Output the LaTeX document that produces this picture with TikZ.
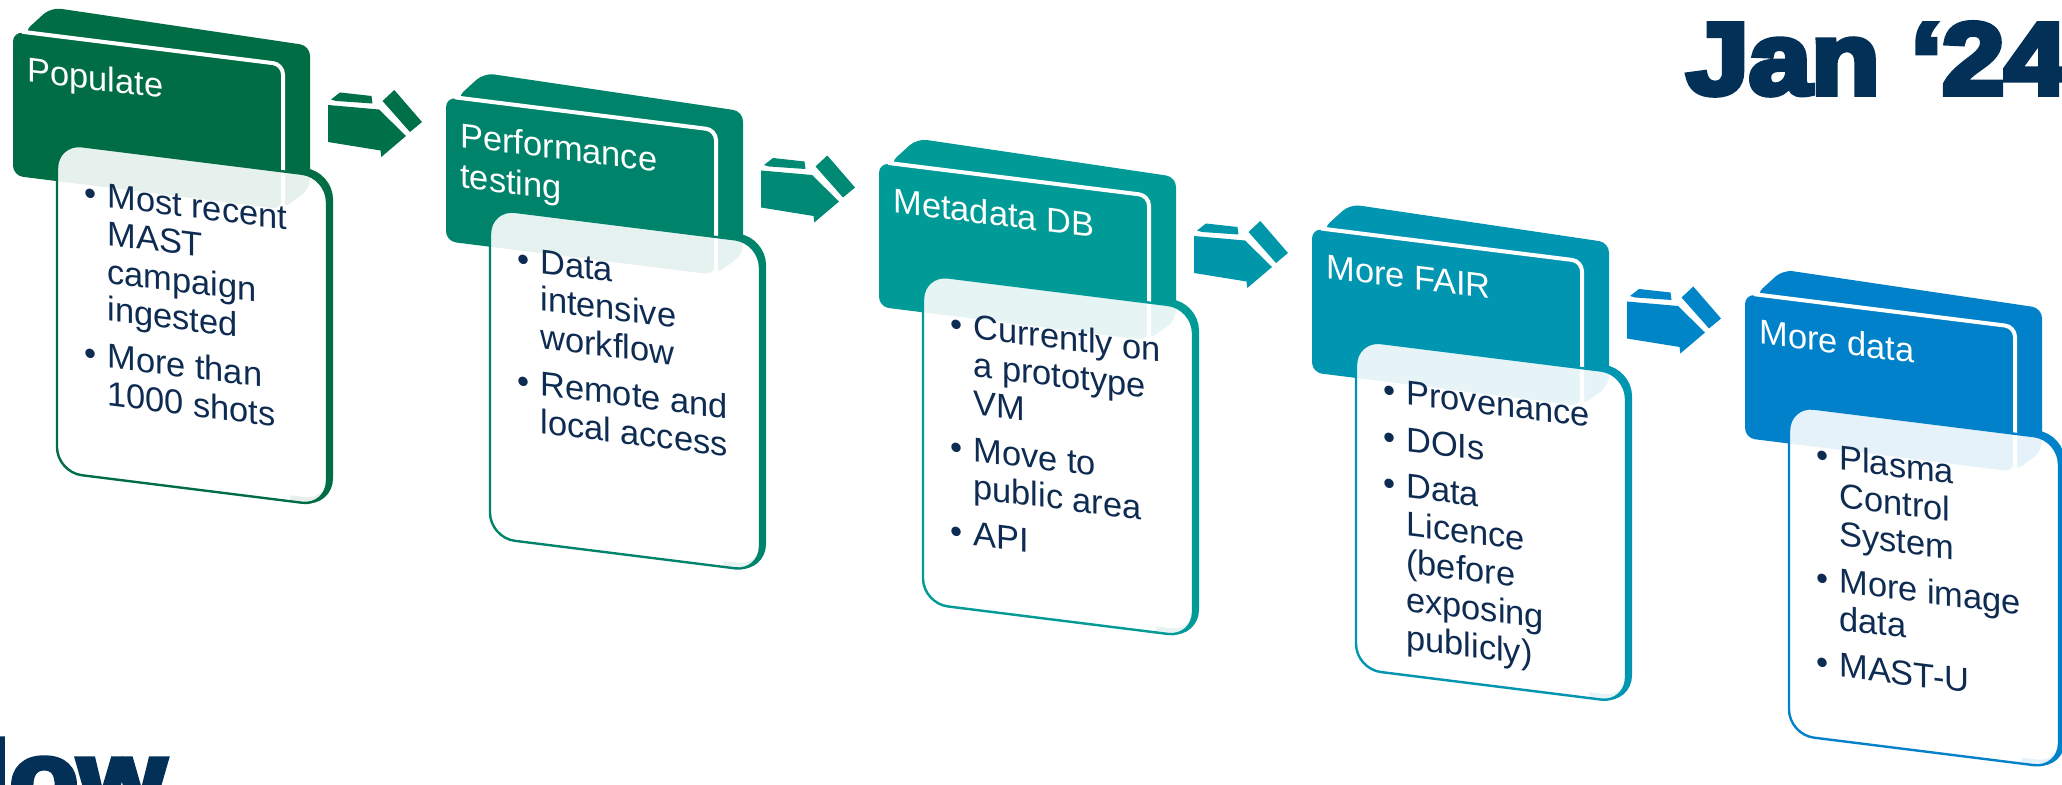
\documentclass[tikz,border=0pt]{standalone}
\usepackage{fontspec}
\setmainfont{Liberation Sans}
\newfontfamily\bigfont[BoldFeatures={FakeBold=5.5}]{Liberation Sans}
\definecolor{cA}{RGB}{0,109,68}
\definecolor{cB}{RGB}{0,131,107}
\definecolor{cC}{RGB}{0,155,150}
\definecolor{cD}{RGB}{0,149,177}
\definecolor{cE}{RGB}{0,129,201}
\definecolor{aA}{RGB}{0,112,72}
\definecolor{aB}{RGB}{0,138,118}
\definecolor{aC}{RGB}{0,151,170}
\definecolor{aD}{RGB}{0,134,200}
\definecolor{navy}{RGB}{14,43,82}
\definecolor{bignavy}{RGB}{2,48,87}
\newcommand\headfont{\fontsize{17.2pt}{20.2pt}\selectfont}
\newcommand\bodyfont{\fontsize{17.2pt}{18.9pt}\selectfont}
\newcommand\bitem[1]{\par\noindent\llap{\textbullet\hspace{5.5pt}}#1}
\newcommand\stagecard[4]{%
\begin{scope}[shift={({433*#1},{65.6*#1})}]
\begin{scope}[yslant=-0.125]
\fill[#2,rounded corners=5pt] (23,30) -- (51,1) -- (310,7) -- (310,150) -- (282,174) -- (282,30) -- cycle;
\fill[#2,rounded corners=5pt] (13,30) rectangle (282,174);
\draw[white,line width=2pt,rounded corners=5pt] (22,29) -- (283,29) -- (283,174);
\node[anchor=base west,inner sep=0pt,transform shape,text=white] (head#1) at (27,78) {\parbox[t]{250pt}{\raggedright\headfont #3}};
\draw[#2,line width=3pt,rounded corners=12.5pt] (290,133) -- (330,133) -- (330,462) -- (290,462);
\fill[white,fill opacity=0.9,rounded corners=12.5pt] (57,136) rectangle (327,465);
\draw[#2,line width=1.2pt,rounded corners=12.5pt] (57,136) rectangle (327,465);
\node[anchor=base west,inner sep=0pt,transform shape,text=navy] (body#1) at (107,194) {\parbox[t]{300pt}{\raggedright\bodyfont\setlength\parskip{4.5pt}#4}};
\end{scope}
\end{scope}}
\newcommand\stagearrow[2]{%
\begin{scope}[shift={({328+433*#1},{105+65.5*#1})}]
\fill[#2] (0,0) -- (51,4.5) -- (78,31) -- (53.3,52) -- (52.5,45.5) -- (0,37) -- cycle;
\fill[#2] (3,-5.5) -- (12,-12.5) -- (43.5,-9) -- (44.5,-1.5) -- (8,-4) -- cycle;
\fill[#2] (54.5,-4) -- (66.3,-15) -- (94,17) -- (82,27) -- cycle;
\end{scope}}
\begin{document}
\begin{tikzpicture}[x=0.5pt,y=-0.5pt]
\fill[white] (0,0) rectangle (2062,785);
\clip (0,0) rectangle (2062,785);
\stagearrow{0}{aA}
\stagearrow{1}{aB}
\stagearrow{2}{aC}
\stagearrow{3}{aD}
\stagecard{0}{cA}{Populate}{\bitem{Most recent\\MAST\\campaign\\ingested}\bitem{More than\\1000 shots}}
\stagecard{1}{cB}{Performance\\testing}{\bitem{Data\\intensive\\workflow}\bitem{Remote and\\local access}}
\stagecard{2}{cC}{Metadata DB}{\bitem{Currently on\\a prototype\\VM}\bitem{Move to\\public area}\bitem{API}}
\stagecard{3}{cD}{More FAIR}{\bitem{Provenance}\bitem{DOIs}\bitem{Data\\Licence\\(before\\exposing\\publicly)}}
\stagecard{4}{cE}{More data}{\bitem{Plasma\\Control\\System}\bitem{More image\\data}\bitem{MAST-U}}
\node[anchor=base west,inner sep=0pt,text=bignavy,xscale=1.1,font=\bigfont\bfseries\fontsize{51pt}{51pt}\selectfont] (jan) at (1686,94) {Jan ‘24};
\node[anchor=base east,inner sep=0pt,text=bignavy,xscale=1.1,font=\bigfont\bfseries\fontsize{51pt}{51pt}\selectfont] (flow) at (166,813) {low};
\end{tikzpicture}
\end{document}
